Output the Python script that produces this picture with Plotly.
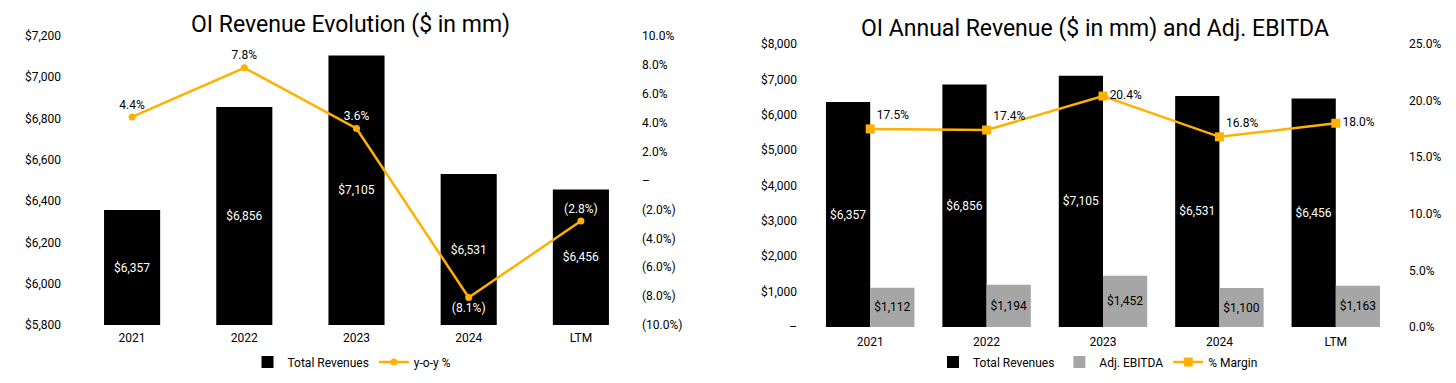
import plotly.graph_objects as go

categories = ["2021", "2022", "2023", "2024", "LTM"]
total_revenues = [6357, 6856, 7105, 6531, 6456]
yoy_pct = [4.4, 7.8, 3.6, -8.1, -2.8]
adj_ebitda = [1112, 1194, 1452, 1100, 1163]
margin_pct = [17.5, 17.4, 20.4, 16.8, 18.0]

left_y_ticks = [5800, 6000, 6200, 6400, 6600, 6800, 7000, 7200]
left_y2_ticks = [-10, -8, -6, -4, -2, 0, 2, 4, 6, 8, 10]
right_y_ticks = [0, 1000, 2000, 3000, 4000, 5000, 6000, 7000, 8000]
right_y2_ticks = [0, 5, 10, 15, 20, 25]

ORANGE = "#FFB000"
GREY = "#A6A6A6"
FONT = "Roboto"


def money(v):
    return "–" if v == 0 else f"${v:,.0f}"


def pct_paren(v):
    if v == 0:
        return "–"
    return f"{v:.1f}%" if v > 0 else f"({abs(v):.1f}%)"


fig = go.Figure()

# Left chart: bars start at the axis floor so the inside labels sit mid-bar
left_base = left_y_ticks[0]
fig.add_trace(go.Bar(
    x=categories, y=[v - left_base for v in total_revenues], base=left_base,
    name="Total Revenues",
    marker=dict(color="#000000", line=dict(width=0)),
    text=[money(v) for v in total_revenues], textposition="inside",
    insidetextanchor="middle", textangle=0,
    textfont=dict(color="white", size=12, family=FONT),
    xaxis="x", yaxis="y", legend="legend",
))
fig.add_trace(go.Scatter(
    x=categories, y=yoy_pct, name="y-o-y %", mode="lines+markers+text",
    line=dict(color=ORANGE, width=2.5), marker=dict(size=7, color=ORANGE),
    text=[pct_paren(v) for v in yoy_pct],
    textposition=["top center", "top center", "top center", "bottom center", "top center"],
    textfont=dict(color=["black", "black", "white", "white", "white"], size=12, family=FONT),
    xaxis="x", yaxis="y2", legend="legend",
))

# Right chart
fig.add_trace(go.Bar(
    x=categories, y=total_revenues, name="Total Revenues",
    marker=dict(color="#000000", line=dict(width=0)),
    text=[money(v) for v in total_revenues], textposition="inside",
    insidetextanchor="middle", textangle=0,
    textfont=dict(color="white", size=12, family=FONT),
    xaxis="x2", yaxis="y3", legend="legend2", width=0.38, offset=-0.38,
))
fig.add_trace(go.Bar(
    x=categories, y=adj_ebitda, name="Adj. EBITDA",
    marker=dict(color=GREY, line=dict(width=0)),
    text=[money(v) for v in adj_ebitda], textposition="inside",
    insidetextanchor="middle", textangle=0,
    textfont=dict(color="black", size=12, family=FONT),
    xaxis="x2", yaxis="y3", legend="legend2", width=0.38, offset=0.0,
))
fig.add_trace(go.Scatter(
    x=categories, y=margin_pct, name="% Margin", mode="lines+markers+text",
    line=dict(color=ORANGE, width=2.5), marker=dict(size=9, color=ORANGE, symbol="square"),
    text=[f"{v:.1f}%" for v in margin_pct],
    textposition=["top right", "top right", "middle right", "top right", "middle right"],
    textfont=dict(color="black", size=12, family=FONT),
    xaxis="x2", yaxis="y4", legend="legend2",
))

W, H = 1456, 383
lx0, lx1 = 76 / W, 637 / W
rx0, rx1 = 812 / W, 1394 / W
ly0, ly1 = (H - 325) / H, (H - 36) / H
ry0, ry1 = (H - 327) / H, (H - 44) / H

tickfont = dict(size=12, color="#000000", family=FONT)
common = dict(showgrid=False, showline=False, zeroline=False, ticks="", automargin=False,
              tickfont=tickfont, fixedrange=True)

fig.update_layout(
    width=W, height=H,
    margin=dict(l=0, r=0, t=0, b=0, pad=0, autoexpand=False),
    paper_bgcolor="white", plot_bgcolor="white",
    font=dict(family=FONT, color="#000000"),
    barmode="group", bargap=0.5,
    showlegend=True,
    xaxis=dict(domain=[lx0, lx1], anchor="y", ticklabelstandoff=4, **common),
    yaxis=dict(domain=[ly0, ly1], anchor="x", range=[5800, 7200], tickvals=left_y_ticks,
               ticktext=[money(v) for v in left_y_ticks], ticklabelstandoff=14, **common),
    yaxis2=dict(domain=[ly0, ly1], anchor="x", overlaying="y", side="right", range=[-10, 10],
                tickvals=left_y2_ticks, ticktext=[pct_paren(v) for v in left_y2_ticks],
                ticklabelstandoff=4, **common),
    xaxis2=dict(domain=[rx0, rx1], anchor="y3", ticklabelstandoff=6, **common),
    yaxis3=dict(domain=[ry0, ry1], anchor="x2", range=[0, 8000], tickvals=right_y_ticks,
                ticktext=[money(v) for v in right_y_ticks], ticklabelstandoff=14, **common),
    yaxis4=dict(domain=[ry0, ry1], anchor="x2", overlaying="y3", side="right", range=[0, 25],
                tickvals=right_y2_ticks, ticktext=[f"{v:.1f}%" for v in right_y2_ticks],
                ticklabelstandoff=14, **common),
    legend=dict(orientation="h", x=352 / W, y=(H - 362) / H, xanchor="center", yanchor="middle",
                font=dict(size=12, family=FONT), bgcolor="rgba(0,0,0,0)", traceorder="normal"),
    legend2=dict(orientation="h", x=1098 / W, y=(H - 362) / H, xanchor="center", yanchor="middle",
                 font=dict(size=12, family=FONT), bgcolor="rgba(0,0,0,0)", traceorder="normal"),
    annotations=[
        dict(text="OI Revenue Evolution ($ in mm)", x=350 / W, y=(H - 25) / H, xref="paper",
             yref="paper", showarrow=False, font=dict(size=23, family=FONT, color="#000000"),
             xanchor="center", yanchor="middle"),
        dict(text="OI Annual Revenue ($ in mm) and Adj. EBITDA", x=1095 / W, y=(H - 28) / H,
             xref="paper", yref="paper", showarrow=False,
             font=dict(size=23, family=FONT, color="#000000"), xanchor="center", yanchor="middle"),
    ],
)

fig.write_html("out.html", config={"displayModeBar": False},
               post_script="document.body.style.margin='0px';")
